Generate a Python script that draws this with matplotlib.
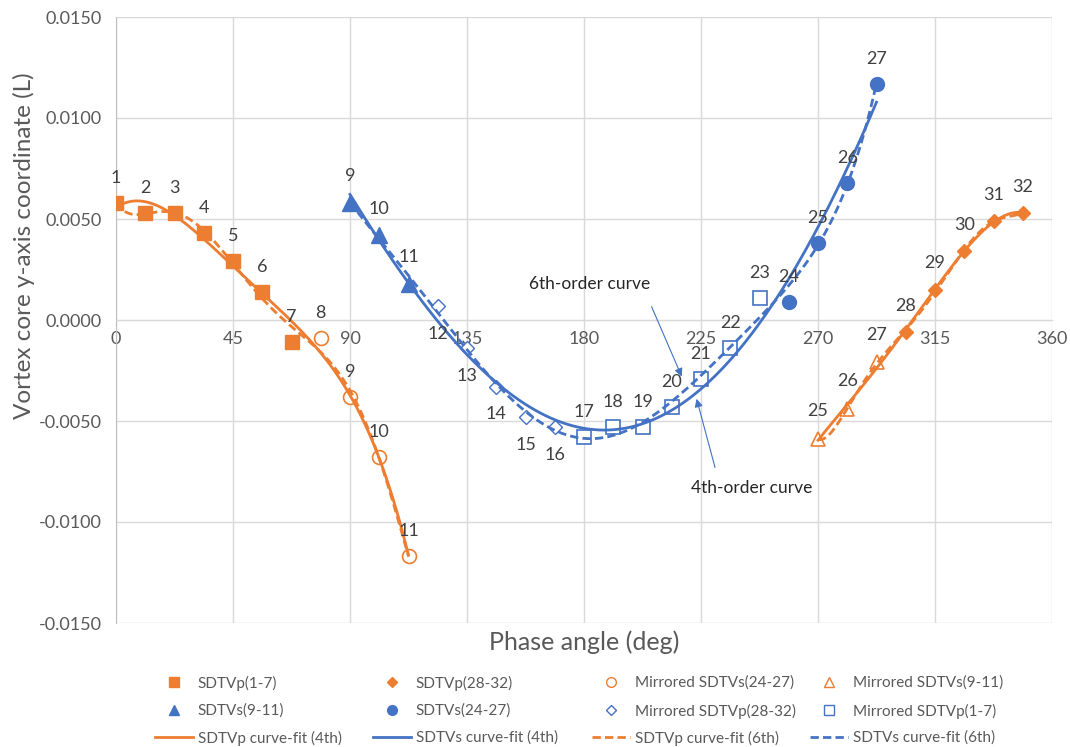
import matplotlib
matplotlib.use('Agg')
import matplotlib.pyplot as plt
from matplotlib.lines import Line2D
import numpy as np

plt.rcParams['font.family'] = ['Lato', 'DejaVu Sans']

orange = '#ED7D31'
blue = '#4472C4'
txt = '#404040'
grey = '#595959'

# SDTVp(1-7), labels 1-7
p17_x = [0, 11.25, 22.5, 33.75, 45, 56.25, 67.5]
p17_y = [0.0058, 0.0053, 0.0053, 0.0043, 0.0029, 0.0014, -0.0011]
p17_lbl = [1, 2, 3, 4, 5, 6, 7]
# Mirrored SDTVs(24-27), labels 8-11
ms2427_x = [78.75, 90, 101.25, 112.5]
ms2427_y = [-0.0009, -0.0038, -0.0068, -0.0117]
ms2427_lbl = [8, 9, 10, 11]
# SDTVs(9-11)
s911_x = [90, 101.25, 112.5]
s911_y = [0.0058, 0.0042, 0.0018]
s911_lbl = [9, 10, 11]
# Mirrored SDTVp(28-32), labels 12-16
mp2832_x = [123.75, 135, 146.25, 157.5, 168.75]
mp2832_y = [0.0007, -0.0014, -0.0033, -0.0048, -0.0053]
mp2832_lbl = [12, 13, 14, 15, 16]
# Mirrored SDTVp(1-7), labels 17-23
mp17_x = [180, 191.25, 202.5, 213.75, 225, 236.25, 247.5]
mp17_y = [-0.0058, -0.0053, -0.0053, -0.0043, -0.0029, -0.0014, 0.0011]
mp17_lbl = [17, 18, 19, 20, 21, 22, 23]
# SDTVs(24-27)
s2427_x = [258.75, 270, 281.25, 292.5]
s2427_y = [0.0009, 0.0038, 0.0068, 0.0117]
s2427_lbl = [24, 25, 26, 27]
# Mirrored SDTVs(9-11), labels 25-27
ms911_x = [270, 281.25, 292.5]
ms911_y = [-0.0059, -0.0044, -0.0021]
ms911_lbl = [25, 26, 27]
# SDTVp(28-32)
p2832_x = [303.75, 315, 326.25, 337.5, 348.75]
p2832_y = [-0.0006, 0.0015, 0.0034, 0.0049, 0.0053]
p2832_lbl = [28, 29, 30, 31, 32]

fig = plt.figure(figsize=(10.7, 7.47), dpi=100)
ax = fig.add_axes([116 / 1070, 1 - 623 / 747, 936 / 1070, 606 / 747])

# trendlines (polynomial fits of the plotted points, as in the spreadsheet)
groups = [
    (p17_x + ms2427_x, p17_y + ms2427_y, orange),
    (s911_x + mp2832_x + mp17_x + s2427_x, s911_y + mp2832_y + mp17_y + s2427_y, blue),
    (ms911_x + p2832_x, ms911_y + p2832_y, orange),
]
for gx, gy, c in groups:
    xs = np.linspace(min(gx), max(gx), 200)
    f4 = np.polynomial.Polynomial.fit(gx, gy, 4)
    f6 = np.polynomial.Polynomial.fit(gx, gy, 6)
    ax.plot(xs, f4(xs), color=c, lw=2, zorder=3)
    ax.plot(xs, f6(xs), color=c, lw=2, ls=(0, (3, 1.5)), zorder=3)

ms = 10
ax.plot(p17_x, p17_y, 's', color=orange, ms=ms, ls='none', zorder=4)
ax.plot(p2832_x, p2832_y, 'D', color=orange, ms=7, ls='none', zorder=4)
ax.plot(ms2427_x, ms2427_y, 'o', mfc='white', mec=orange, mew=1.2, ms=ms, ls='none', zorder=2)
ax.plot(ms911_x, ms911_y, '^', mfc='white', mec=orange, mew=1.2, ms=ms, ls='none', zorder=2)
ax.plot(s911_x, s911_y, '^', color=blue, ms=11, ls='none', zorder=4)
ax.plot(s2427_x, s2427_y, 'o', color=blue, ms=ms, ls='none', zorder=4)
ax.plot(mp2832_x, mp2832_y, 'D', mfc='white', mec=blue, mew=1.0, ms=7, ls='none', zorder=2)
ax.plot(mp17_x, mp17_y, 's', mfc='white', mec=blue, mew=1.2, ms=ms, ls='none', zorder=2)

# point labels
def labels(xs, ys, lbls, dy):
    for x, y, l in zip(xs, ys, lbls):
        ax.annotate(str(l), (x, y), xytext=(0, dy), textcoords='offset points',
                    ha='center', va='center', fontsize=13, color=txt, zorder=5)

labels(p17_x, p17_y, p17_lbl, 18)
labels(ms2427_x, ms2427_y, ms2427_lbl, 18)
labels(s911_x, s911_y, s911_lbl, 19)
labels(mp2832_x, mp2832_y, mp2832_lbl, -20)
labels(mp17_x, mp17_y, mp17_lbl, 18)
labels(s2427_x, s2427_y, s2427_lbl, 18)
labels(ms911_x, ms911_y, ms911_lbl, 20)
labels(p2832_x, p2832_y, p2832_lbl, 19)

# annotations for curve orders
arrow = dict(arrowstyle='-|>', color=blue, lw=0.8, mutation_scale=12, shrinkA=0, shrinkB=0)
ax.annotate('', xy=(217.6, -0.0028), xytext=(206, 0.00066), arrowprops=arrow, zorder=5)
ax.text(182.3, 0.0018, '6th-order curve', ha='center', va='center', fontsize=12.5, color='#262626')
ax.annotate('', xy=(223.3, -0.0039), xytext=(230.4, -0.0073), arrowprops=arrow, zorder=5)
ax.text(244.6, -0.0083, '4th-order curve', ha='center', va='center', fontsize=12.5, color='#262626')

ax.set_xlim(0, 360)
ax.set_ylim(-0.015, 0.015)
ax.set_xticks(np.arange(0, 361, 45))
ax.set_yticks(np.arange(-0.015, 0.0151, 0.005))
ax.yaxis.set_major_formatter(matplotlib.ticker.FuncFormatter(lambda v, p: '%.4f' % (0 if abs(v) < 1e-9 else v)))
ax.grid(True, color='#d9d9d9', lw=1)
ax.set_axisbelow(True)
for s in ['top', 'right']:
    ax.spines[s].set_visible(False)
ax.spines['bottom'].set_position(('data', 0))
ax.spines['bottom'].set_color('#d9d9d9')
ax.spines['left'].set_color('#bfbfbf')
ax.tick_params(length=0, labelsize=13, labelcolor=grey)
ax.tick_params(axis='x', pad=8)
ax.tick_params(axis='y', pad=10)

ax.text(0.5, -0.012, 'Phase angle (deg)', transform=ax.transAxes, ha='center', va='top',
        fontsize=18, color=grey)
fig.text(24 / 1070, 1 - 246 / 747, 'Vortex core y-axis coordinate (L)', rotation=90,
         ha='center', va='center', fontsize=17.5, color=grey)

# legend: 4 columns x 3 rows
entries = [
    (Line2D([], [], marker='s', color=orange, ls='none', ms=7), 'SDTVp(1-7)', 0, 0),
    (Line2D([], [], marker='D', color=orange, ls='none', ms=5), 'SDTVp(28-32)', 1, 0),
    (Line2D([], [], marker='o', mfc='white', mec=orange, ls='none', ms=7), 'Mirrored SDTVs(24-27)', 2, 0),
    (Line2D([], [], marker='^', mfc='white', mec=orange, ls='none', ms=7), 'Mirrored SDTVs(9-11)', 3, 0),
    (Line2D([], [], marker='^', color=blue, ls='none', ms=7), 'SDTVs(9-11)', 0, 1),
    (Line2D([], [], marker='o', color=blue, ls='none', ms=7), 'SDTVs(24-27)', 1, 1),
    (Line2D([], [], marker='D', mfc='white', mec=blue, ls='none', ms=5), 'Mirrored SDTVp(28-32)', 2, 1),
    (Line2D([], [], marker='s', mfc='white', mec=blue, ls='none', ms=7), 'Mirrored SDTVp(1-7)', 3, 1),
    (Line2D([], [], color=orange, lw=2), 'SDTVp curve-fit (4th)', 0, 2),
    (Line2D([], [], color=blue, lw=2), 'SDTVs curve-fit (4th)', 1, 2),
    (Line2D([], [], color=orange, lw=2, ls=(0, (3, 1.5))), 'SDTVp curve-fit (6th)', 2, 2),
    (Line2D([], [], color=blue, lw=2, ls=(0, (3, 1.5))), 'SDTVs curve-fit (6th)', 3, 2),
]
col_x = [155, 373, 592, 810]
row_y = [683, 711, 738]
for h, lab, c, r in entries:
    fig.legend([h], [lab], loc='center left', bbox_to_anchor=(col_x[c] / 1070, 1 - row_y[r] / 747),
               frameon=False, fontsize=11, handlelength=2.5, handletextpad=0.3,
               borderpad=0, borderaxespad=0, labelcolor=grey)

fig.savefig('out.png', dpi=100)
